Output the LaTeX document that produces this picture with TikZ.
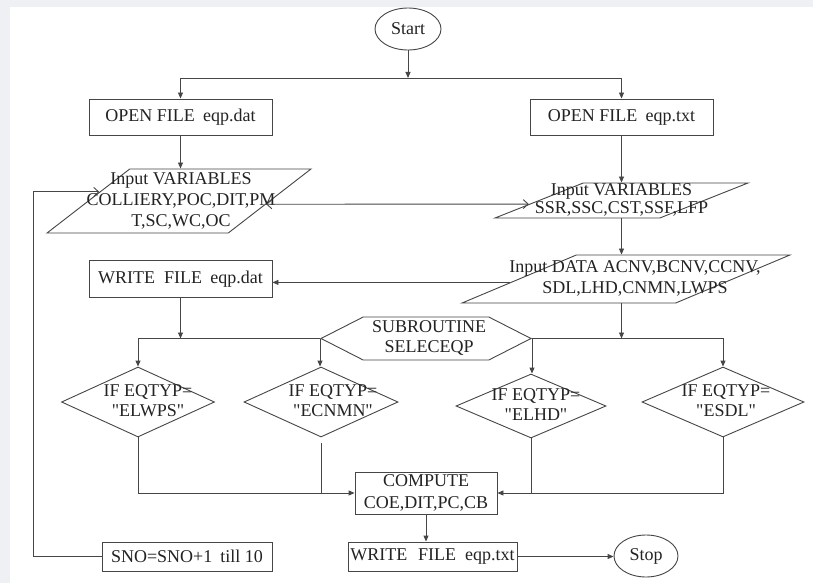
\documentclass[tikz,border=0pt]{standalone}
\usepackage{fontspec}
\setmainfont{Liberation Serif}
\usetikzlibrary{shapes.geometric,shapes.symbols,arrows.meta,calc}
\definecolor{bgband}{RGB}{238,240,243}
\definecolor{ink}{RGB}{35,35,35}
\definecolor{linec}{RGB}{70,70,70}
\newcommand{\ztext}[2][0pt]{\makebox[2pt]{\kern#1\kern#1\smash{\raisebox{-0.25em}{\begin{tabular}[c]{@{}c@{}}#2\end{tabular}}}}\rule[-1pt]{0pt}{2pt}}
\newcommand{\sq}{\XeTeXglyph\XeTeXcharglyph"22\relax}
\begin{document}
\begin{tikzpicture}[x=1pt,y=-1pt,
  every node/.style={font=\fontsize{18}{21}\selectfont, text=ink, inner sep=0pt},
  ln/.style={draw=linec, line width=0.9pt},
  proc/.style={ln, rectangle},
  term/.style={ln, ellipse},
  io/.style={ln, trapezium, trapezium stretches=true},
  dec/.style={ln, diamond},
  hexa/.style={ln, signal, signal to=west and east},
  arr/.style={linec, line width=0.9pt, -{Triangle[length=6pt,width=5pt]}},
  barb/.style={linec, line width=0.9pt, -{Straight Barb[length=5pt,width=9pt]}},
  dbarb/.style={linec, line width=0.9pt, {Straight Barb[length=5pt,width=9pt]}-{Straight Barb[length=5pt,width=9pt]}},
  plain/.style={linec, line width=0.9pt}]
\useasboundingbox (0,0) rectangle (813,583);
\fill[bgband] (0,0) rectangle (813,583);
\fill[white] (10,7) rectangle (813,583);

\node[term, minimum width=66pt, minimum height=42pt] (start) at (408,29) {Start};
\node[proc, minimum width=183pt, minimum height=36pt] (open1) at (180.5,117) {OPEN FILE\hspace{0.45em}eqp.dat};
\node[proc, minimum width=183pt, minimum height=36pt] (open2) at (621.5,117) {OPEN FILE\hspace{0.45em}eqp.txt};
\node[io, trapezium left angle=50, trapezium right angle=130, minimum width=264pt, minimum height=64pt] (lp) at (179,201)
  {\ztext[2pt]{Input VARIABLES\\COLLIERY,POC,DIT,PM\\T,SC,WC,OC}};
\node[io, trapezium left angle=41, trapezium right angle=139, minimum width=253pt, minimum height=35pt] (rp) at (621.5,200.5)
  {\fontsize{18}{18}\selectfont\ztext{Input VARIABLES\\SSR,SSC,CST,SSF,LFP}};
\node[proc, minimum width=183pt, minimum height=37pt] (write1) at (180.5,279) {WRITE\hspace{0.5em}FILE\hspace{0.45em}eqp.dat};
\node[io, trapezium left angle=41, trapezium right angle=139, minimum width=328pt, minimum height=48pt] (data) at (626,279)
  {\ztext[9pt]{Input DATA ACNV,BCNV,CCNV,\\SDL,LHD,CNMN,LWPS}};
\node[hexa, signal pointer angle=54, minimum width=210pt, minimum height=43pt] (sub) at (426,338.5)
  {\fontsize{18}{20}\selectfont\ztext[3pt]{SUBROUTINE\\SELECEQP}};
\node[dec, minimum width=153pt, minimum height=70pt] (d1) at (138,402) {\fontsize{18}{20}\selectfont\ztext[10pt]{IF EQTYP=\\\sq ELWPS\sq}};
\node[dec, minimum width=154pt, minimum height=70pt] (d2) at (321,402) {\fontsize{18}{20}\selectfont\ztext[12pt]{IF EQTYP=\\\sq ECNMN\sq}};
\node[dec, minimum width=150pt, minimum height=64pt] (d3) at (531,406) {\fontsize{18}{20}\selectfont\ztext[5pt]{IF EQTYP=\\\sq ELHD\sq}};
\node[dec, minimum width=162pt, minimum height=70pt] (d4) at (723,402) {\fontsize{18}{20}\selectfont\ztext[3pt]{IF EQTYP=\\\sq ESDL\sq}};
\node[proc, minimum width=142pt, minimum height=42pt] (compute) at (426,493)
  {\fontsize{18}{22}\selectfont\ztext{COMPUTE\\COE,DIT,PC,CB}};
\node[proc, minimum width=169pt, minimum height=29pt] (write2) at (432.5,556.5) {WRITE\hspace{0.6em}FILE\hspace{0.5em}eqp.txt};
\node[proc, minimum width=170pt, minimum height=29pt] (sno) at (187,556.5) {SNO=SNO+1\hspace{0.45em}till 10};
\node[term, minimum width=64pt, minimum height=42pt] (stop) at (646,556) {Stop};

\coordinate (bar) at (0,78);
\coordinate (loopx) at (33,0);
\coordinate (lpE) at ($(lp.top right corner)!0.55!(lp.bottom right corner)$);
\coordinate (rpW) at ($(rp.top left corner)!0.6!(rp.bottom left corner)$);
\coordinate (lpW) at ($(lp.top left corner)!0.36!(lp.bottom left corner)$);
\coordinate (dataW) at ($(data.top left corner)!0.57!(data.bottom left corner)$);

\draw[arr] (start.south) -- (start.south |- bar);
\draw[arr] (start.south |- bar) -| (open1.north);
\draw[arr] (start.south |- bar) -| (open2.north);
\draw[arr] (open1.south) -- (open1.south |- lp.north);
\draw[arr] (open2.south) -- (open2.south |- rp.north);
\draw[dbarb] (lpE) -- (rpW);
\draw[arr] (rp.south) -- (rp.south |- data.north);
\draw[arr] (dataW) -- (dataW -| write1.east);
\draw[arr] (write1.south) -- (write1.south |- sub.west);
\draw[arr] (rp.south |- data.south) -- (rp.south |- sub.east);
\draw[arr] (sub.west) -| (d1.north);
\draw[arr] (sub.west) -- (sub.west |- d2.north);
\draw[arr] (sub.east) -| (d4.north);
\draw[arr] (sub.east) -- (sub.east |- d3.north);
\draw[arr] (d1.south) |- (compute.west);
\draw[plain] ([yshift=-6pt]d2.south) -- (d2.south |- compute.west);
\draw[plain] (d3.south) -- (d3.south |- compute.east);
\draw[arr] (d4.south) |- (compute.east);
\draw[arr] (compute.south) -- (compute.south |- write2.north);
\draw[arr] (write2.east) -- (write2.east -| stop.west);
\draw[barb] (sno.west) -- (sno.west -| loopx) |- (lpW);
\end{tikzpicture}
\end{document}
